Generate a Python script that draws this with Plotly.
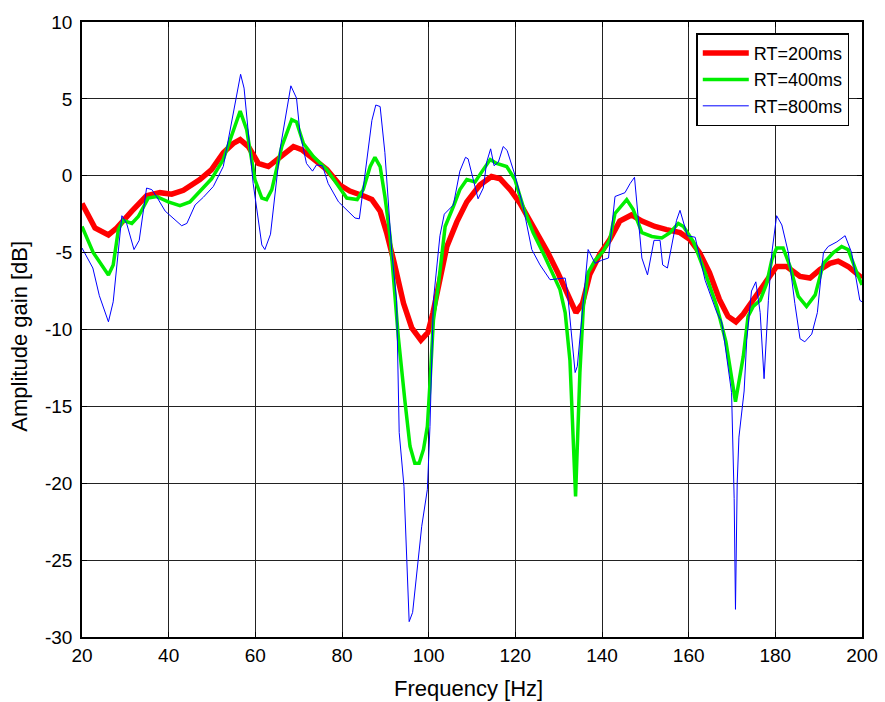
import plotly.graph_objects as go

# ---------------- data ----------------
f_200 = [20, 23, 26.1, 28, 31.5, 34.9, 38, 40.7, 43.4, 47.2,
         49.9, 52.6, 54.9, 56.5, 58.4, 60.7, 63, 65.7, 68.8, 70.7,
         73.4, 76.5, 79.5, 81.8, 85.3, 86.9, 88.8, 90.3, 92.0, 93.2,
         94.2, 96.1, 98.2, 99.8, 101.0, 102.6, 104.2, 106.5, 108.8, 111.8,
         114.5, 116.5, 118.8, 121.1, 124.2, 127.5, 129.8, 132.2, 134.0, 135.5,
         137.2, 139.5, 141.8, 144.1, 146.8, 149.2, 152.2, 154.9, 158, 160.3,
         162.5, 164.8, 167.1, 169.1, 170.9, 172.6, 174.9, 178, 180.3, 182.6,
         185.7, 188, 190.3, 192.6, 194.5, 196.8, 200]
rt_200 = [-1.8, -3.4, -3.85, -3.4, -2.3, -1.3, -1.1, -1.2, -0.95, -0.25,
          0.4, 1.5, 2.1, 2.35, 1.9, 0.8, 0.6, 1.25, 1.9, 1.7,
          1.05, 0.4, -0.6, -1.0, -1.35, -1.55, -2.3, -3.7, -5.6, -7.2,
          -8.3, -9.9, -10.7, -10.2, -8.9, -6.75, -4.6, -3.0, -1.7, -0.6,
          -0.05, -0.2, -0.9, -1.8, -3.3, -5.0, -6.3, -7.85, -8.9, -8.3,
          -6.4, -5.1, -4.15, -2.95, -2.55, -2.95, -3.3, -3.5, -3.7, -4.15,
          -5.0, -6.3, -8.05, -9.15, -9.5, -9.0, -8.05, -6.75, -5.9, -5.9,
          -6.55, -6.65, -6.1, -5.7, -5.55, -5.9, -6.65]

f_400 = [20, 22.6, 26.1, 27.2, 28.4, 29.5, 31.5, 33, 35.3, 37.2,
         39.9, 42.6, 44.9, 49.9, 52.6, 54.9, 56.5, 58, 59.9, 61.5,
         62.6, 63.8, 66.1, 68.4, 69.5, 71.1, 73.4, 76.5, 79.5, 81.1,
         83.5, 84.9, 86.5, 87.6, 88.8, 89.9, 91.1, 92.2, 93.0, 94.5,
         95.7, 96.8, 97.8, 98.8, 99.7, 100.3, 101.1, 102.2, 103.8, 105.7,
         107.2, 108.8, 110.7, 112.6, 114.2, 115.7, 118, 119.9, 121.8, 124.1,
         126.8, 130.3, 131.5, 132.6, 133.9, 134.9, 135.7, 136.8, 138.4, 140.3,
         141.8, 143, 145.7, 147.2, 149.2, 151.5, 153.8, 155.7, 157.6, 158.8,
         161.1, 163.8, 166.5, 168.6, 170.8, 172.6, 173.7, 174.9, 176.5, 178,
         179.2, 180.3, 181.8, 183.4, 185.3, 187.2, 189.2, 191.1, 193.4, 195.3,
         196.8, 198.8, 200]
rt_400 = [-3.3, -5.0, -6.45, -5.8, -3.5, -2.9, -3.1, -2.65, -1.45, -1.35,
          -1.7, -1.95, -1.7, -0.2, 1.05, 3.0, 4.2, 3.0, -0.25, -1.45,
          -1.55, -0.9, 1.9, 3.65, 3.5, 2.1, 1.25, 0.4, -0.8, -1.45,
          -1.55, -0.9, 0.6, 1.2, 0.6, -1.35, -3.95, -8.0, -10.5, -14.6,
          -17.6, -18.7, -18.7, -17.8, -16.3, -13.5, -9.4, -7.2, -3.3, -2.0,
          -0.9, -0.25, -0.4, 0.4, 1.05, 0.8, 0.6, -0.25, -2.0, -3.7,
          -5.25, -7.4, -8.9, -12.0, -20.85, -12.8, -8.5, -6.3, -5.5, -4.9,
          -4.15, -2.45, -1.55, -2.2, -3.7, -3.95, -4.05, -3.7, -3.1, -3.3,
          -4.3, -6.3, -8.5, -10.8, -14.7, -11.75, -9.15, -8.5, -8.1, -7.0,
          -5.45, -4.7, -4.7, -5.9, -7.85, -8.5, -7.75, -5.7, -5.0, -4.6,
          -4.8, -6.3, -7.1]

f_800 = [20, 22.5, 24, 26.1, 27.2, 29.2, 30.3, 32, 33.2, 34.9,
         36.1, 37.2, 39.2, 43, 44.2, 46.1, 48, 50.3, 52.6, 55.3,
         56.6, 57.4, 59.5, 61.5, 62.2, 63.5, 65.7, 68.2, 69.5, 70.3,
         71.8, 73.2, 74.1, 75.5, 76.8, 79.2, 83, 84, 84.9, 86.9,
         87.8, 88.8, 89.9, 91.5, 92.6, 93.2, 94.3, 95.5, 96.3, 97.6,
         98.4, 99.7, 100.3, 101.1, 102.6, 103.6, 105.7, 107.2, 108.5, 109.1,
         111.4, 112.6, 113.4, 114.3, 115.1, 116.1, 117.2, 118.1, 119.9, 121.8,
         123.8, 125.7, 128, 131.5, 132.0, 133.8, 134.3, 136.8, 138.4, 139.9,
         141.5, 143, 145.3, 146.5, 147.5, 149.2, 150.5, 152, 153.4, 154,
         155.1, 157.2, 158, 159.7, 161.5, 163.8, 166.5, 167.6, 168, 169.9,
         170.5, 170.8, 171.2, 171.6, 172.8, 173.4, 174.5, 175.5, 176.5, 177.4,
         178.4, 179.2, 180.3, 181.5, 183, 184.5, 185.7, 186.8, 188.4, 189.7,
         191.1, 192.2, 194.2, 196.1, 197.6, 199.5, 200]
rt_800 = [-4.7, -6.0, -7.8, -9.5, -8.2, -2.6, -3.1, -4.8, -4.2, -0.8,
          -0.9, -1.35, -2.3, -3.25, -3.1, -1.9, -1.4, -0.7, 0.6, 4.5,
          6.6, 5.7, -0.5, -4.5, -4.8, -3.8, 1.7, 5.85, 5.05, 2.8,
          0.8, 0.3, 0.7, 0.65, -0.5, -1.7, -2.75, -2.8, -0.9, 3.6,
          4.6, 4.5, 1.5, -5.0, -8.1, -16.7, -20.2, -29.0, -28.4, -25.0,
          -22.8, -20.4, -16.3, -8.1, -3.9, -2.5, -1.9, 0.3, 1.2, 1.1,
          -1.5, -0.8, 0.9, 1.75, 0.65, 0.9, 1.9, 1.65, 0.05, -2.0,
          -4.8, -5.8, -6.76, -6.65, -7.5, -12.8, -12.4, -4.8, -5.7, -5.5,
          -5.35, -1.35, -1.1, -0.5, -0.1, -5.35, -6.45, -4.2, -4.2, -5.8,
          -6.0, -2.9, -2.25, -3.9, -4.0, -6.8, -8.9, -9.5, -10.2, -14.1,
          -21.0, -28.2, -20.0, -17.0, -14.0, -10.7, -7.5, -6.9, -8.9, -13.2,
          -8.1, -5.0, -2.6, -3.2, -5.0, -8.3, -10.6, -10.8, -10.3, -8.9,
          -5.0, -4.6, -4.3, -3.9, -5.0, -8.1, -8.2]

series_names = ["RT=200ms", "RT=400ms", "RT=800ms"]
x_ticks = [20, 40, 60, 80, 100, 120, 140, 160, 180, 200]
y_ticks = [10, 5, 0, -5, -10, -15, -20, -25, -30]

# ---------------- figure ----------------
FONT = "Arial, 'Liberation Sans', Helvetica, sans-serif"

fig = go.Figure()
fig.add_trace(go.Scatter(x=f_200, y=rt_200, mode="lines", name=series_names[0],
                         line=dict(color="#ff0000", width=5.5)))
fig.add_trace(go.Scatter(x=f_400, y=rt_400, mode="lines", name=series_names[1],
                         line=dict(color="#00ee00", width=3.5)))
fig.add_trace(go.Scatter(x=f_800, y=rt_800, mode="lines", name=series_names[2],
                         line=dict(color="#0000ff", width=1)))

axis_common = dict(
    showgrid=True, gridcolor="#222222", gridwidth=1,
    showline=True, linecolor="black", linewidth=1.5, mirror="ticks",
    ticks="inside", ticklen=5, tickcolor="black",
    zeroline=False, automargin=False,
    tickfont=dict(family=FONT, size=19, color="black"),
)

fig.update_xaxes(range=[20, 200], tickvals=x_ticks,
                 ticktext=[str(v) for v in x_ticks], **axis_common)
fig.update_yaxes(range=[-30, 10], tickvals=y_ticks,
                 ticktext=[str(v) for v in y_ticks], ticklabelstandoff=4,
                 **axis_common)

fig.update_layout(
    width=885, height=702,
    margin=dict(l=82, r=23, t=22, b=65),
    paper_bgcolor="white", plot_bgcolor="white",
    font=dict(family=FONT, color="black"),
    showlegend=True,
    legend=dict(
        x=0.9837, y=0.9816, xanchor="right", yanchor="top",
        bgcolor="white", bordercolor="black", borderwidth=1.5,
        font=dict(family=FONT, size=18, color="black"),
        itemwidth=46, tracegroupgap=0,
    ),
    annotations=[
        dict(text="Frequency [Hz]", xref="paper", yref="paper",
             x=0.496, y=-0.083, xanchor="center", yanchor="middle",
             showarrow=False, font=dict(family=FONT, size=22, color="black")),
        dict(text="Amplitude gain [dB]", xref="paper", yref="paper",
             x=-0.0795, y=0.49, xanchor="center", yanchor="middle",
             textangle=-90, showarrow=False,
             font=dict(family=FONT, size=22, color="black")),
    ],
)

fig.write_html("out.html")
